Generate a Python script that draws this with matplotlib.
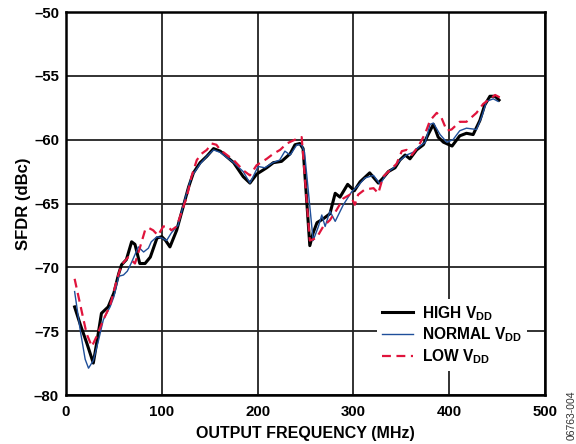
import numpy as np
import matplotlib
matplotlib.use("Agg")
import matplotlib.pyplot as plt

# Data ---------------------------------------------------------------------------------------------
high_x = [9, 15, 22, 28.5, 33, 37, 44, 50, 55, 58, 63, 68.5, 72, 77, 82.5, 88, 95, 100, 104, 108.5,
          115.5, 122.5, 128, 133, 140, 147, 154, 161, 175, 185, 192, 199, 209.5, 216.5, 225, 234, 239,
          244, 247.5, 254.5, 258, 262, 268.5, 275.5, 281, 286, 294, 301, 307, 317, 326, 331, 336.5,
          343.5, 348.5, 354, 359, 366, 373, 378, 383.5, 388.5, 394, 403, 411, 418, 425, 432, 437,
          442.5, 448, 452]
high_y = [-73.1, -74.5, -76.0, -77.5, -75.5, -73.6, -73.1, -72.0, -70.5, -69.8, -69.4, -68.0, -68.2,
          -69.7, -69.7, -69.2, -67.7, -67.6, -67.9, -68.4, -67.1, -65.2, -63.7, -62.6, -61.8, -61.3,
          -60.7, -60.9, -61.8, -62.9, -63.4, -62.7, -62.2, -61.8, -61.7, -61.1, -60.4, -60.3, -60.7,
          -68.3, -67.3, -66.5, -66.2, -65.8, -64.2, -64.5, -63.5, -64.0, -63.3, -62.6, -63.4, -63.0,
          -62.5, -62.2, -61.6, -61.2, -61.5, -60.8, -60.4, -59.6, -58.8, -59.8, -60.2, -60.5, -59.7,
          -59.5, -59.6, -58.5, -57.3, -56.6, -56.6, -56.9]

normal_x = [9, 15, 20, 23.5, 28.5, 34, 39, 46, 50, 55, 60, 64, 68.5, 75.5, 81, 86, 89, 95, 100, 105,
            110, 117, 124, 131, 140, 147, 154, 161, 175, 185, 192, 200.5, 207.5, 216, 223, 228.5,
            234, 241, 246, 249, 258, 263.5, 267, 270.5, 275.5, 281, 289.5, 298, 305, 312, 321, 328,
            335, 342, 349, 355.5, 362, 369.5, 375, 380, 383.5, 390.5, 397.5, 404, 411, 418, 428.5,
            434, 439, 446, 451]
normal_y = [-71.9, -75.0, -77.2, -77.9, -77.3, -75.7, -74.1, -73.1, -72.3, -70.7, -70.6, -70.3, -69.6,
            -68.4, -68.8, -68.5, -68.0, -67.6, -67.7, -67.9, -67.3, -66.7, -64.7, -62.9, -61.9, -61.3,
            -60.8, -61.0, -61.8, -62.5, -63.4, -62.1, -62.2, -61.8, -61.6, -60.9, -61.2, -60.4, -60.4,
            -61.0, -67.9, -66.8, -65.9, -66.8, -65.6, -66.4, -65.1, -64.1, -63.6, -63.0, -62.8, -63.5,
            -62.6, -62.2, -61.6, -61.2, -61.0, -60.5, -60.2, -58.8, -58.7, -59.6, -60.2, -60.0, -59.3,
            -59.1, -59.2, -58.2, -57.0, -56.8, -57.0]

low_x = [9, 14.5, 21.5, 27, 32, 39, 46, 53, 58, 65, 72, 77, 82.5, 86, 91, 96, 101.5, 106.5, 110,
         115.5, 121, 126, 131, 136.5, 141.5, 147, 152, 157, 161, 175, 185, 192, 199, 209.5, 216.5,
         223.5, 230.5, 239, 246, 254.5, 261.5, 268.5, 275.5, 282.5, 289.5, 296.5, 301.5, 305, 312,
         321, 326, 331, 338, 345, 350.5, 355.5, 361, 368, 375, 380, 387, 392, 397.5, 402.5, 411, 418,
         428.5, 435.5, 442.5, 448, 453]
low_y = [-70.9, -72.8, -75.2, -76.2, -75.4, -74.1, -73.0, -71.0, -69.8, -69.2, -69.7, -68.5, -67.1,
         -66.9, -67.1, -67.5, -66.8, -66.8, -67.1, -66.8, -65.6, -64.5, -62.9, -61.6, -61.1, -60.8,
         -60.3, -60.4, -60.8, -61.6, -62.4, -62.8, -62.0, -61.5, -61.1, -60.8, -60.3, -60.0, -59.8,
         -67.9, -67.7, -66.8, -66.3, -65.5, -64.6, -64.3, -65.1, -64.3, -63.9, -63.8, -64.2, -62.9,
         -62.4, -61.9, -60.9, -60.8, -61.2, -60.5, -59.5, -58.5, -57.9, -58.3, -59.3, -59.2, -58.6,
         -58.6, -57.9, -57.2, -56.8, -56.5, -56.7]

x_ticks = [0, 100, 200, 300, 400, 500]
y_ticks = [-80, -75, -70, -65, -60, -55, -50]

# Plot ---------------------------------------------------------------------------------------------
plt.rcParams['font.family']      = 'Liberation Sans'
plt.rcParams['font.weight']      = 'bold'
plt.rcParams['mathtext.fontset'] = 'custom'
plt.rcParams['mathtext.rm']      = 'Liberation Sans:bold'
plt.rcParams['mathtext.bf']      = 'Liberation Sans:bold'

fig = plt.figure(figsize=(5.76, 4.44), dpi=100)
ax  = fig.add_axes([66/576, 49/444, 479/576, 383/444])

ax.plot(high_x,   high_y,   color='black',   lw=2.2, label=r'HIGH V$_{\mathbf{DD}}$', zorder=3)
ax.plot(normal_x, normal_y, color='#1f4f9a', lw=1.0, label=r'NORMAL V$_{\mathbf{DD}}$', zorder=4)
ax.plot(low_x,    low_y,    color='#e0143c', lw=1.6, ls=(0, (4, 2.5)), label=r'LOW V$_{\mathbf{DD}}$', zorder=5)

ax.set_xlim(0, 500)
ax.set_ylim(-80, -50)
ax.set_xticks(x_ticks)
ax.set_yticks(y_ticks)
ax.set_yticklabels([f'\u2013{abs(v)}' for v in y_ticks])
ax.tick_params(length=0, labelsize=10.8)
ax.tick_params(axis='x', pad=7)
ax.tick_params(axis='y', pad=5)
for lbl in ax.get_xticklabels() + ax.get_yticklabels():
    lbl.set_fontweight('bold')

ax.grid(True, color='#222222', lw=1.3)
for s in ax.spines.values():
    s.set_linewidth(1.8)

ax.set_xlabel('OUTPUT FREQUENCY (MHz)', fontsize=11.5, fontweight='bold', labelpad=5)
ax.set_ylabel('SFDR (dBc)', fontsize=12, fontweight='bold', labelpad=2)

leg = ax.legend(loc='lower right', bbox_to_anchor=(0.962, 0.063), borderaxespad=0,
                frameon=True, framealpha=1, fancybox=False, edgecolor='none',
                fontsize=11.2, handlelength=2.0, handletextpad=0.6, labelspacing=0.2,
                borderpad=0.3)
for t in leg.get_texts():
    t.set_fontweight('bold')

fig.text(0.992, 0.008, '06763-004', rotation=90, fontsize=7.5, fontweight='normal',
         color='#333333', ha='center', va='bottom')

fig.savefig('out.png', dpi=100)
